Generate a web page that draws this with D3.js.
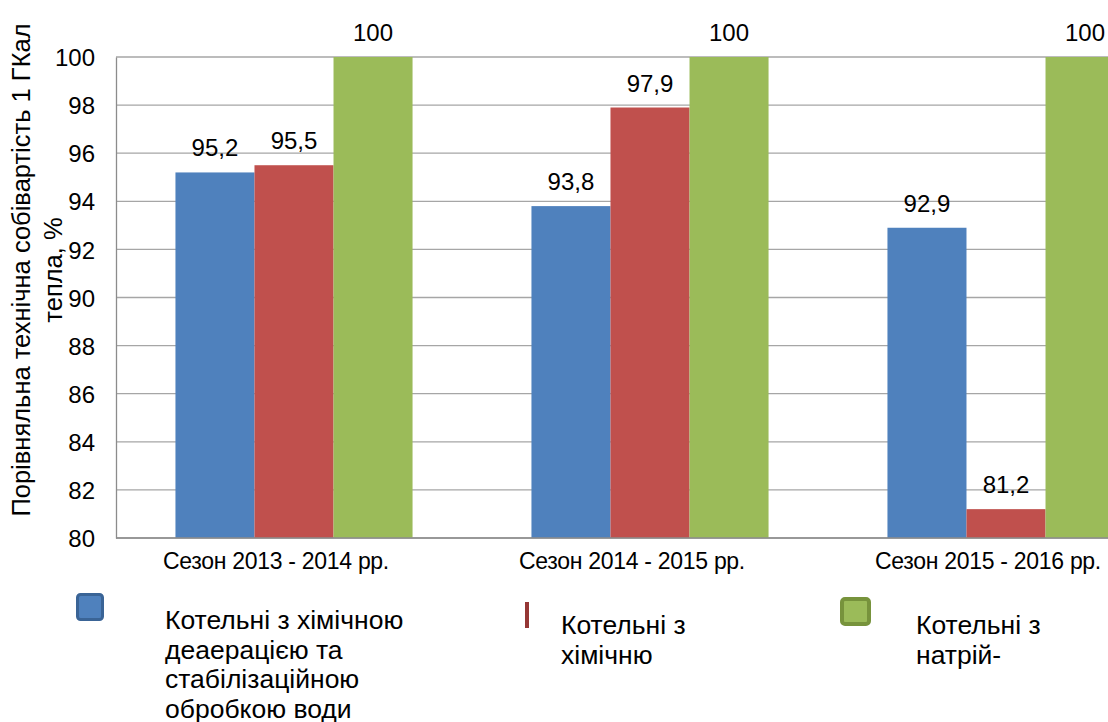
<!DOCTYPE html>
<html><head><meta charset="utf-8">
<script src="https://cdn.jsdelivr.net/npm/d3@7"></script>
<style>body{margin:0;background:#fff;overflow:hidden}</style>
</head><body>
<svg id="c" width="1108" height="722"></svg>
<script>
const categories = ["Сезон 2013 - 2014 рр.", "Сезон 2014 - 2015 рр.", "Сезон 2015 - 2016 рр."];
const seriesKeys = ["deaer", "chem", "sodium"];
const seriesLegend = [
  ["Котельні з хімічною", "деаерацією та", "стабілізаційною", "обробкою води"],
  ["Котельні з", "хімічню"],
  ["Котельні з", "натрій-"]
];
const deaerValues = [95.2, 93.8, 92.9];
const chemValues = [95.5, 97.9, 81.2];
const sodiumValues = [100, 100, 100];
const yTicks = [80, 82, 84, 86, 88, 90, 92, 94, 96, 98, 100];
const yTitle = ["Порівняльна технічна собівартість 1 ГКал", "тепла, %"];

const colors = {deaer: "#4f81bd", chem: "#c0504d", sodium: "#9bbb59"};
const borders = {deaer: "#3a6496", chem: "#953735", sodium: "#77933c"};
const seriesValues = {deaer: deaerValues, chem: chemValues, sodium: sodiumValues};

const svg = d3.select("#c");
const L = 116, R = 1184, T = 57, B = 538;
const normal = "'Liberation Sans', Arial, sans-serif";

const x0 = d3.scaleBand().domain(categories).range([L, R]).paddingInner(0.334).paddingOuter(0.167);
const x1 = d3.scaleBand().domain(seriesKeys).range([0, x0.bandwidth()]);
const y = d3.scaleLinear().domain([80, 100]).range([B, T]);

// gridlines
svg.append("g").selectAll("line").data(yTicks).join("line")
  .attr("x1", L).attr("x2", R).attr("y1", d => y(d)).attr("y2", d => y(d))
  .attr("stroke", "#a6a6a6").attr("stroke-width", 1.3);

// left axis
const yAxis = d3.axisLeft(y).tickValues(yTicks).tickSize(0).tickPadding(21).tickFormat(d3.format("d"));
const ya = svg.append("g").attr("transform", `translate(${L},0)`).call(yAxis);
ya.select(".domain").attr("stroke", "#8c8c8c").attr("stroke-width", 1.3);
ya.selectAll("text").attr("font-family", normal).attr("font-size", 24).attr("fill", "#000").attr("dy", "0.36em");

// bars
const groups = svg.append("g").selectAll("g").data(categories).join("g")
  .attr("transform", d => `translate(${x0(d)},0)`);
seriesKeys.forEach(k => {
  groups.append("rect")
    .attr("x", x1(k)).attr("width", x1.bandwidth())
    .attr("y", (d, i) => y(seriesValues[k][i]))
    .attr("height", (d, i) => B - y(seriesValues[k][i]))
    .attr("fill", colors[k]);
  groups.append("text")
    .attr("x", x1(k) + x1.bandwidth() / 2)
    .attr("y", (d, i) => y(seriesValues[k][i]) - 16)
    .attr("text-anchor", "middle")
    .attr("font-family", normal).attr("font-size", 24).attr("fill", "#000")
    .text((d, i) => String(seriesValues[k][i]).replace(".", ","));
});

// bottom axis
svg.append("line").attr("x1", L).attr("x2", R).attr("y1", B).attr("y2", B)
  .attr("stroke", "#8c8c8c").attr("stroke-width", 1.3);
svg.append("g").selectAll("text").data(categories).join("text")
  .attr("x", d => x0(d) + x0.bandwidth() / 2 - 18)
  .attr("y", 569)
  .attr("text-anchor", "middle")
  .attr("font-family", normal).attr("font-size", 23).attr("letter-spacing", -0.3).attr("fill", "#000")
  .text(d => d);

// y title
const yt = svg.append("text").attr("transform", "translate(0,270) rotate(-90)")
  .attr("text-anchor", "middle").attr("font-family", normal).attr("font-size", 25.5).attr("fill", "#000");
yt.append("tspan").attr("x", 0).attr("y", 30).text(yTitle[0]);
yt.append("tspan").attr("x", 0).attr("y", 62).text(yTitle[1]);

// legend
const legX = [165, 561, 916];
const lg = svg.append("g");
lg.append("rect").attr("x", 77.5).attr("y", 594.5).attr("width", 25).attr("height", 25).attr("rx", 3)
  .attr("fill", colors.deaer).attr("stroke", borders.deaer).attr("stroke-width", 3);
lg.append("rect").attr("x", 525).attr("y", 602).attr("width", 4).attr("height", 26)
  .attr("fill", borders.chem);
lg.append("rect").attr("x", 842).attr("y", 599).attr("width", 27).attr("height", 25).attr("rx", 3)
  .attr("fill", colors.sodium).attr("stroke", borders.sodium).attr("stroke-width", 4);
const lineStart = [629, 634, 634];
seriesLegend.forEach((lines, i) => {
  const t = lg.append("text").attr("font-family", normal).attr("font-size", 26.5).attr("fill", "#000");
  lines.forEach((s, j) => t.append("tspan").attr("x", legX[i]).attr("y", lineStart[i] + j * 29.7).text(s));
});
</script>
</body></html>
